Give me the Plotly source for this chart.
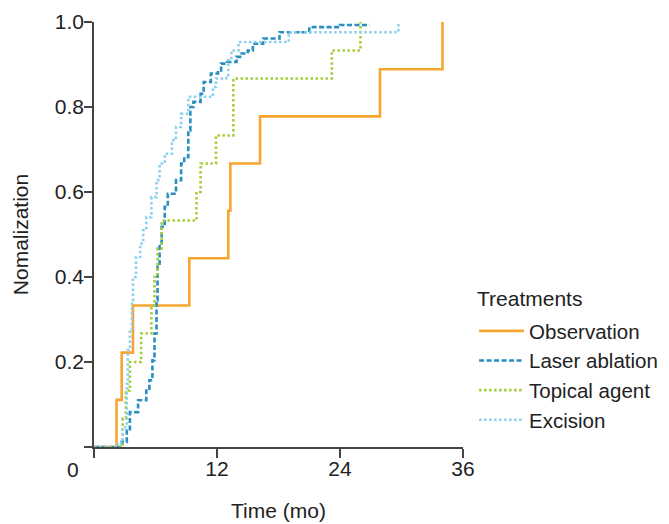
import plotly.graph_objects as go

# ---- data (months, cumulative normalized proportion) ----
obs_t = [2.2, 2.7, 3.8, 9.3, 13.1, 13.3, 16.2, 27.9, 34.0]
obs_y = [0.111, 0.222, 0.333, 0.444, 0.556, 0.667, 0.778, 0.889, 1.0]

las_t = [2.7, 3.2, 3.5, 4.3, 5.1, 5.4, 5.7, 5.9, 6.1, 6.2, 6.4, 6.6, 6.9, 7.2, 8.0,
         8.5, 8.8, 9.2, 9.4, 9.7, 10.4, 10.7, 11.4, 12.1, 12.4, 13.0, 13.9, 14.4,
         15.0, 15.5, 16.5, 18.1, 21.0, 24.0, 26.9]
las_y = [0.012, 0.039, 0.082, 0.110, 0.137, 0.157, 0.204, 0.267, 0.345, 0.424, 0.479,
         0.518, 0.565, 0.596, 0.628, 0.667, 0.682, 0.745, 0.800, 0.812, 0.831, 0.859,
         0.879, 0.886, 0.902, 0.906, 0.918, 0.926, 0.933, 0.949, 0.961, 0.976, 0.988,
         0.993, 0.993]

top_t = [2.8, 3.1, 3.5, 4.6, 5.6, 5.9, 6.2, 6.6, 10.0, 10.4, 11.9, 13.6, 23.2, 26.0]
top_y = [0.067, 0.133, 0.200, 0.267, 0.333, 0.400, 0.467, 0.533, 0.600, 0.667,
         0.733, 0.867, 0.933, 1.0]

exc_t = [2.3, 2.8, 3.2, 3.3, 3.5, 3.7, 3.8, 4.1, 4.5, 4.8, 5.1, 5.6, 6.1, 6.4, 6.9,
         7.6, 8.0, 8.5, 9.2, 11.6, 11.9, 12.9, 13.1, 13.4, 14.1, 19.0, 29.7]
exc_y = [0.010, 0.047, 0.149, 0.228, 0.275, 0.345, 0.400, 0.447, 0.479, 0.510, 0.541,
         0.588, 0.628, 0.667, 0.690, 0.722, 0.753, 0.784, 0.824, 0.847, 0.867, 0.875,
         0.910, 0.933, 0.953, 0.976, 1.0]

x_ticks = [0, 12, 24, 36]
x_ticktext = ["", "12", "24", "36"]
y_ticks = [0, 0.2, 0.4, 0.6, 0.8, 1.0]
y_ticktext = ["", "0.2", "0.4", "0.6", "0.8", "1.0"]

series = [
    ("Observation", obs_t, obs_y, "#F7A530", "solid"),
    ("Laser ablation", las_t, las_y, "#2B8EC0", "5px,2.5px"),
    ("Topical agent", top_t, top_y, "#A5CD3A", "2.5px,2.5px"),
    ("Excision", exc_t, exc_y, "#8CD0F0", "2.5px,2.5px"),
]

FONT = "Liberation Sans, Arial, sans-serif"
fig = go.Figure()
for name, t, y, col, dash in series:
    fig.add_trace(go.Scatter(
        x=[0] + t, y=[0] + y, name=name, mode="lines",
        line=dict(color=col, width=2.6, dash=dash, shape="hv"),
        cliponaxis=False,
    ))

axis_common = dict(showline=True, linecolor="#444", linewidth=1.5,
                   ticks="outside", tickcolor="#444", tickwidth=1.5,
                   showgrid=False, zeroline=False, automargin=False,
                   tickfont=dict(size=21, color="#222"))

# page body adds an 8px offset, so the figure is sized to fit the window
fig.update_layout(
    width=661, height=516,
    margin=dict(l=86, r=206, t=14, b=77, autoexpand=False),
    plot_bgcolor="white", paper_bgcolor="white",
    font=dict(family=FONT, size=21, color="#222"),
    xaxis=dict(range=[0, 36], tickvals=x_ticks, ticktext=x_ticktext, ticklen=9,
               ticklabelstandoff=-7,
               title=dict(text="Time (mo)", font=dict(size=21), standoff=24),
               **axis_common),
    yaxis=dict(range=[0, 1], tickvals=y_ticks, ticktext=y_ticktext, ticklen=8,
               ticklabelstandoff=-4,
               title=dict(text="Nomalization", font=dict(size=21), standoff=20),
               **axis_common),
    legend=dict(font=dict(size=20.5, color="#222"),
                x=1.030, xanchor="left", y=0.32, yanchor="top",
                bgcolor="rgba(0,0,0,0)", itemwidth=45),
    annotations=[
        dict(text="0", x=-0.0578, y=-0.0525, xref="paper", yref="paper",
             xanchor="center", yanchor="middle", showarrow=False,
             font=dict(size=21, color="#222")),
        dict(text="Treatments", x=1.032, y=0.35, xref="paper", yref="paper",
             xanchor="left", yanchor="middle", showarrow=False,
             font=dict(size=21, color="#222")),
    ],
)

fig.write_html("out.html")
